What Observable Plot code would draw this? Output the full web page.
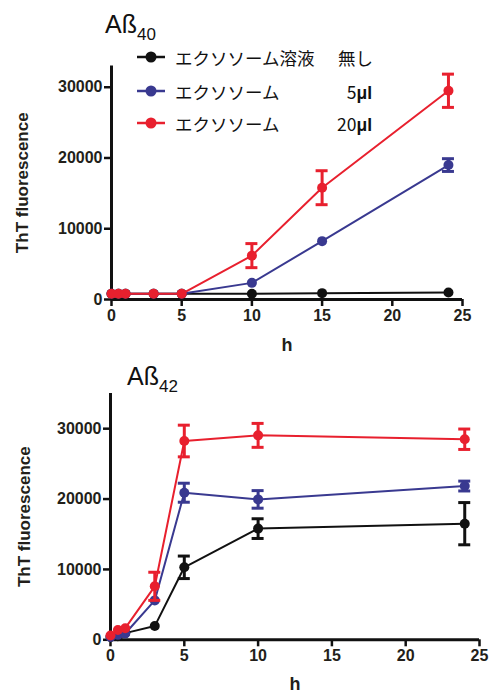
<!DOCTYPE html>
<html><head><meta charset="utf-8">
<script src="https://cdn.jsdelivr.net/npm/d3@7"></script>
<script src="https://cdn.jsdelivr.net/npm/@observablehq/plot@0.6"></script>
<style>
body{margin:0;background:#fff;}
#wrap{position:relative;width:492px;height:693px;overflow:hidden;}
#top,#bottom{position:absolute;left:0;}
#top{top:0;} #bottom{top:355px;}
.title{position:absolute;font-family:"Liberation Sans",Arial,sans-serif;font-size:25px;color:#111;line-height:1;white-space:nowrap;}
.title sub{font-size:17px;vertical-align:baseline;position:relative;top:7px;}
.leg{position:absolute;left:137px;top:0;font-family:"Noto Sans CJK JP",sans-serif;font-size:17.5px;color:#111;}
.row{position:absolute;left:0;height:24px;width:260px;display:flex;align-items:center;white-space:nowrap;}
.row svg{margin-right:10px;flex:none;}
.amt{position:absolute;left:150px;width:85px;text-align:right;}
.amt b{font-family:"Liberation Sans",Arial,sans-serif;font-weight:bold;}
</style></head>
<body>
<div id="wrap">
  <div id="top"></div>
  <div id="bottom"></div>
  <div class="title" style="left:105px;top:12px;">Aß<sub>40</sub></div>
  <div class="title" style="left:127px;top:364px;">Aß<sub>42</sub></div>
  <div class="leg" id="legend"></div>
</div>
<script>
// ---- data ----
const seriesKeys = ["ctrl", "low", "high"];
const seriesLabels = ["エクソソーム溶液", "エクソソーム", "エクソソーム"];
const seriesAmounts = ["無し", "5", "20"];
const seriesColors = ["#111111", "#393990", "#e8202e"];

const hours40 = [0, 0.5, 1, 3, 5, 10, 15, 24];
const ctrl40 = [800, 800, 800, 800, 800, 800, 900, 1000];
const ctrl40Err = [0, 0, 0, 0, 0, 0, 0, 0];
const low40 = [800, 800, 800, 800, 800, 2350, 8250, 19000];
const low40Err = [0, 0, 0, 0, 0, 0, 0, 900];
const high40 = [800, 800, 800, 800, 800, 6200, 15800, 29500];
const high40Err = [0, 0, 0, 0, 0, 1700, 2400, 2350];

const hours42 = [0, 0.5, 1, 3, 5, 10, 24];
const ctrl42 = [400, 500, 950, 1950, 10300, 15800, 16500];
const ctrl42Err = [0, 0, 0, 0, 1600, 1400, 3000];
const low42 = [400, 700, 900, 5600, 20900, 19950, 21850];
const low42Err = [0, 0, 0, 0, 1350, 1250, 700];
const high42 = [600, 1400, 1650, 7600, 28250, 29050, 28500];
const high42Err = [0, 0, 0, 2000, 2250, 1700, 1450];

const yTicks = [0, 10000, 20000, 30000];
const xTicks = [0, 5, 10, 15, 20, 25];

function rows(hours, vals, errs, key) {
  return hours.map((h, i) => ({h, v: vals[i], e: errs[i], key}));
}
const data40 = [
  ...rows(hours40, ctrl40, ctrl40Err, "ctrl"),
  ...rows(hours40, low40, low40Err, "low"),
  ...rows(hours40, high40, high40Err, "high")
];
const data42 = [
  ...rows(hours42, ctrl42, ctrl42Err, "ctrl"),
  ...rows(hours42, low42, low42Err, "low"),
  ...rows(hours42, high42, high42Err, "high")
];

const textColor = "#231f1a";
const font = "Liberation Sans, Arial, sans-serif";

function chart({data, yMax, height, marginTop, marginBottom, marginLeft, marginRight, labelDx, hDy}) {
  const withErr = data.filter(d => d.e > 0);
  const marks = [
    Plot.axisY({ticks: yTicks, tickFormat: d3.format("d"), tickSize: 7, tickPadding: 2,
      fontSize: 16, fontWeight: "bold", fill: textColor, stroke: "#111", strokeWidth: 2.5, label: null, fontFamily: font}),
    Plot.axisX({ticks: xTicks, tickFormat: d3.format("d"), tickSize: 7, tickPadding: 3,
      fontSize: 16, fontWeight: "bold", fill: textColor, stroke: "#111", strokeWidth: 2.5, label: null, fontFamily: font}),
    Plot.ruleX([0], {stroke: "#111", strokeWidth: 3}),
    Plot.ruleY([0], {stroke: "#111", strokeWidth: 3}),
    Plot.text(["ThT fluorescence"], {text: d => d, frameAnchor: "left", rotate: -90, dx: labelDx,
      textAnchor: "middle", lineAnchor: "middle", fontSize: 17, fontWeight: "bold", fill: textColor, fontFamily: font}),
    Plot.text(["h"], {text: d => d, frameAnchor: "bottom", dy: hDy, textAnchor: "middle", lineAnchor: "middle",
      fontSize: 18, fontWeight: "bold", fill: textColor, fontFamily: font})
  ];
  for (const k of seriesKeys) {
    const d = data.filter(r => r.key === k);
    const de = withErr.filter(r => r.key === k);
    marks.push(
      Plot.line(d, {x: "h", y: "v", stroke: "key", strokeWidth: 2}),
      Plot.ruleX(de, {x: "h", y1: r => r.v - r.e, y2: r => r.v + r.e, stroke: "key", strokeWidth: 3}),
      Plot.ruleY(de, {y: r => r.v + r.e, x1: "h", x2: "h", insetLeft: -6, insetRight: -6, stroke: "key", strokeWidth: 3}),
      Plot.ruleY(de, {y: r => r.v - r.e, x1: "h", x2: "h", insetLeft: -6, insetRight: -6, stroke: "key", strokeWidth: 3}),
      Plot.dot(d, {x: "h", y: "v", r: 5, fill: "key", stroke: null})
    );
  }
  return Plot.plot({
    width: 492, height, marginTop, marginBottom, marginLeft, marginRight,
    style: {background: "transparent", overflow: "visible"},
    x: {domain: [0, 25]},
    y: {domain: [0, yMax]},
    color: {type: "ordinal", domain: seriesKeys, range: seriesColors},
    marks
  });
}

document.getElementById("top").append(chart({
  data: data40, yMax: 33000, height: 355, marginTop: 65.5, marginBottom: 56,
  marginLeft: 111, marginRight: 30, labelDx: -89, hDy: 46
}));
document.getElementById("bottom").append(chart({
  data: data42, yMax: 35000, height: 338, marginTop: 38, marginBottom: 53.7,
  marginLeft: 110, marginRight: 13, labelDx: -86, hDy: 44
}));

// legend
const rowCenters = [57, 91, 123];
const leg = document.getElementById("legend");
seriesKeys.forEach((k, i) => {
  const row = document.createElement("div");
  row.className = "row";
  row.style.top = (rowCenters[i] - 12) + "px";
  const c = seriesColors[i];
  const amt = i === 0 ? `<span class="amt" style="left:201px;width:auto;text-align:left">${seriesAmounts[i]}</span>`
                      : `<span class="amt">${seriesAmounts[i]}<b>μl</b></span>`;
  row.innerHTML = `<svg width="28" height="12"><line x1="0" x2="28" y1="6" y2="6" stroke="${c}" stroke-width="2.5"/><circle cx="14" cy="6" r="5.5" fill="${c}"/></svg><span>${seriesLabels[i]}</span>${amt}`;
  leg.append(row);
});
</script>
</body></html>
